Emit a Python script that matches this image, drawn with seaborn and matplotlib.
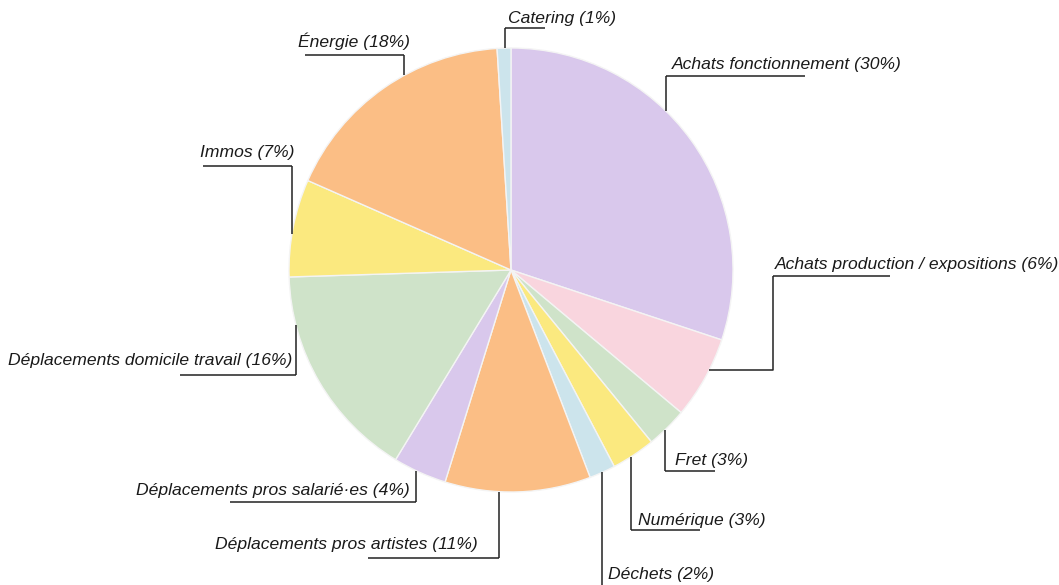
import numpy as np
import matplotlib
matplotlib.use("Agg")
import matplotlib.pyplot as plt
import seaborn as sns

categories = ["Achats fonctionnement", "Achats production / expositions", "Fret",
              "Numérique", "Déchets", "Déplacements pros artistes",
              "Déplacements pros salarié·es", "Déplacements domicile travail",
              "Immos", "Énergie", "Catering"]
shares = [30.1, 6.0, 3.0, 3.2, 1.9, 10.6, 3.9, 15.8, 7.1, 17.4, 1.0]
pct_labels = [30, 6, 3, 3, 2, 11, 4, 16, 7, 18, 1]
colors = ["#d9c8ec", "#f9d5de", "#cfe3c9", "#fbe97f", "#cce4ec", "#fbbe85",
          "#d9c8ec", "#cfe3c9", "#fbe97f", "#fbbe85", "#cce4ec"]

# label layout in pixels (top-left origin): text x, ha, text y, elbow x, underline y, underline end x
label_x = [672, 775, 675, 638, 608, 478, 410, 292, 200, 298, 508]
label_ha = ["left", "left", "left", "left", "left", "right", "right", "right", "left", "left", "left"]
label_y = [64, 264, 461, 520, 575, 545, 490, 361, 152, 41, 18]
elbow_x = [666, 773, 665, 631, 602, 499, 416, 296, 292, 404, 505]
under_y = [76, 276, 471, 530, 600, 558, 502, 375, 166, 55, 28]
under_end = [805, 890, 715, 700, 602, 368, 230, 180, 203, 305, 545]

W, H = 1059, 585
cx, cy, r = 511, 270, 222

sns.set_theme(style="white")
plt.rcParams['font.family'] = ['Liberation Sans', 'DejaVu Sans']

fig = plt.figure(figsize=(W / 100, H / 100), dpi=100)
ax = fig.add_axes([0, 0, 1, 1])

ax.pie(shares, colors=colors, startangle=90, counterclock=False,
       center=(cx, H - cy), radius=r,
       wedgeprops=dict(edgecolor="#f4f4f4", linewidth=1.0))
ax.set_xlim(0, W)
ax.set_ylim(0, H)
ax.set_aspect("equal")
ax.axis("off")

# which side of the pie each leader hits
ends = np.cumsum(shares) / sum(shares) * 360
mids = 90 - (ends - np.array(shares) / sum(shares) * 180)

line_kw = dict(color="#222222", lw=1.1, solid_capstyle="butt")
for i, name in enumerate(categories):
    ax.text(label_x[i], H - label_y[i], f"{name} ({pct_labels[i]}%)",
            ha=label_ha[i], va="center", fontsize=12.6, style="italic",
            color="#1a1a1a")
    ex, ey = elbow_x[i], under_y[i]
    ax.plot([under_end[i], ex], [H - ey, H - ey], **line_kw)
    if name.startswith("Achats production"):
        # down then left into the wedge
        hy = 370
        hx = cx + np.sqrt(r**2 - (hy - cy)**2)
        ax.plot([ex, ex, hx], [H - ey, H - hy, H - hy], **line_kw)
    else:
        dy = np.sqrt(max(r**2 - (ex - cx)**2, 0))
        upper = np.sin(np.radians(mids[i])) > 0
        ty = cy - dy if upper else cy + dy
        ax.plot([ex, ex], [H - ey, H - ty], **line_kw)

fig.savefig("out.png", dpi=100, facecolor="white")
